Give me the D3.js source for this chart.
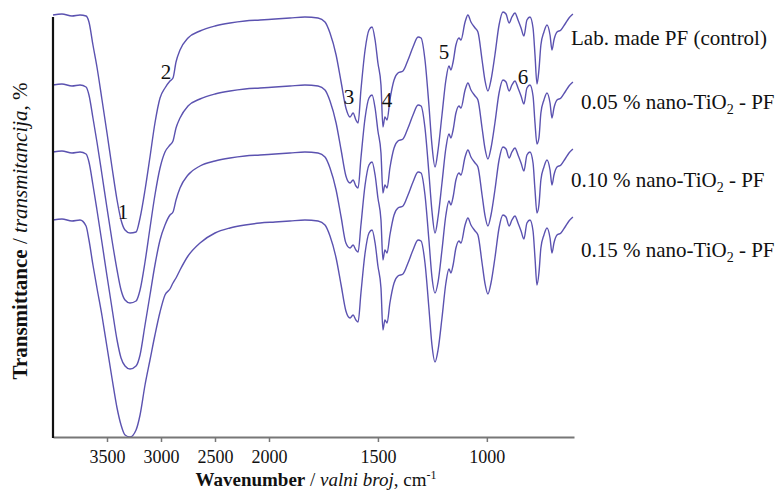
<!DOCTYPE html>
<html>
<head>
<meta charset="utf-8">
<script src="https://cdn.jsdelivr.net/npm/d3@7"></script>
<style>
body { margin: 0; background: #fff; }
svg text { font-family: "Liberation Serif", "Times New Roman", serif; fill: #111; }
</style>
</head>
<body>
<script>
// wavenumber grid (cm-1), shared by every spectrum
let wavenumbers = [4000,3917,3824,3750,3694,3667,3630,3593,3546,3500,3454,3407,3370,3333,3287,3231,3194,3148,3102,3056,3009,2963,2917,2889,2861,2824,2750,2639,2500,2361,2222,2083,
	1972,1904,1835,1775,1743,1720,1692,1669,1647,1628,1614,1601,1591,1578,1559,1541,1527,1513,1500,1486,
	1477,1468,1458,1445,1426,1408,1385,1362,1339,1316,1302,1284,1266,1252,1238,1224,1206,1188,1174,1165,
	1155,1142,1128,1119,1100,1087,1073,1054,1041,1022,1009,995,981,963,944,926,912,898,885,871,
	857,843,830,816,802,788,779,770,761,752,738,724,710,701,692,678,660,641,623,605];

// transmittance, arbitrary units (spectra stacked)
let controlPF = [422,423,421,422,421,415,392,370,337,304,270,237,217,207,204,205,219,247,280,314,339,349,356,359,375,387,399,406,411,414,416,417,
	418,419,420,419,415,404,382,355,329,320,324,317,314,347,387,407,410,397,374,352,
	310,320,317,337,357,364,366,377,390,400,399,377,332,292,270,287,322,357,371,367,
	375,392,399,397,415,422,415,409,405,377,357,346,357,382,412,425,423,414,420,424,
	417,409,401,417,420,409,382,353,367,392,405,412,402,387,397,405,407,413,419,423];

let tio2_005 = [352,353,351,352,350,342,319,295,262,229,197,167,147,137,134,136,147,175,209,242,269,285,292,296,309,319,331,338,343,346,348,349,
	350,351,352,351,347,336,314,287,261,254,257,251,249,279,319,339,342,329,306,284,
	244,252,249,269,289,296,298,309,322,332,331,309,264,226,204,220,254,289,303,299,
	307,324,331,329,347,354,347,341,337,309,289,278,289,314,344,357,355,346,352,356,
	349,341,333,349,352,341,314,293,299,324,337,344,334,319,329,337,339,345,351,355];

let tio2_010 = [285,286,284,285,283,275,252,227,194,161,129,97,79,71,68,71,82,112,142,172,197,212,222,225,237,249,262,271,276,279,281,282,
	283,284,285,284,280,269,247,220,194,189,192,187,185,212,252,272,275,262,239,217,
	177,187,184,202,222,229,231,242,255,265,264,242,197,160,144,155,187,222,236,232,
	240,257,264,262,280,287,280,274,270,242,222,211,222,247,277,290,288,279,285,289,
	282,274,266,282,285,274,247,224,232,257,270,277,267,252,262,270,272,278,284,288];

let tio2_015 = [217,218,216,217,211,197,172,149,121,90,59,29,12,2,0,7,22,52,77,102,125,142,148,154,159,167,181,194,204,209,212,214,
	215,216,217,216,212,201,179,152,126,119,122,117,115,144,184,204,207,194,171,149,
	107,117,114,134,154,161,163,174,187,197,196,174,129,92,75,87,119,154,168,164,
	172,189,196,194,212,219,212,206,202,174,154,143,154,179,209,222,220,211,217,221,
	214,206,198,214,217,206,179,152,164,189,202,209,199,184,194,202,204,210,216,220];

let xTicks = [3500, 3000, 2500, 2000, 1500, 1000];

// peak numbers: label, wavenumber, transmittance
let peakNames = ["1", "2", "3", "4", "5", "6"];
let peakWave = [3352, 2954, 1633, 1458, 1197, 834];
let peakValue = [218, 358, 333, 330, 378, 353];

window.onload = function(){

let width = 777,
	height = 497;

let svg = d3.select("body").append("svg").attr("width", width).attr("height", height)
	.style("background", "#fff")
	.style("font-family", "'Liberation Serif', serif");

// instrument plot: scale doubles below 2000 cm-1
let x = d3.scaleLinear().domain([4000, 2000, 600]).range([53, 269, 574]);
let y = d3.scaleLinear().domain([0, 420]).range([437, 17]);

let series = [
	{values: controlPF, label: "Lab. made PF (control)", lx: 571, ly: 45, sub: false},
	{values: tio2_005, label: ["0.05 % nano-TiO", "2", " - PF"], lx: 581, ly: 109, sub: true},
	{values: tio2_010, label: ["0.10 % nano-TiO", "2", " - PF"], lx: 571, ly: 187, sub: true},
	{values: tio2_015, label: ["0.15 % nano-TiO", "2", " - PF"], lx: 581, ly: 257, sub: true}
];

let line = d3.line()
	.x((d, i) => x(wavenumbers[i]))
	.y(d => y(d))
	.curve(d3.curveMonotoneX);

svg.selectAll(".spectrum").data(series).enter().append("path")
	.attr("class", "spectrum")
	.attr("d", d => line(d.values))
	.attr("fill", "none")
	.attr("stroke", "#5b52b0")
	.attr("stroke-width", 1.4);

// x axis
let xAxis = svg.append("g")
	.attr("transform", "translate(0," + y(0) + ")")
	.call(d3.axisBottom(x).tickValues(xTicks).tickSize(5).tickSizeOuter(0).tickFormat(d3.format("d")));
xAxis.attr("font-family", null);
xAxis.select(".domain").attr("stroke", "#777").attr("stroke-width", 2);
xAxis.selectAll(".tick line").attr("stroke", "#777").attr("stroke-width", 1.5);
xAxis.selectAll(".tick text")
	.attr("y", 26).attr("dy", null)
	.style("font-size", "18px")
	.attr("fill", "#111");

// y axis (no ticks)
svg.append("line")
	.attr("x1", x(4000)).attr("x2", x(4000))
	.attr("y1", y(420)).attr("y2", y(0) + 1)
	.attr("stroke", "#111").attr("stroke-width", 2.2);

// series labels
series.forEach(function(s){
	let t = svg.append("text").attr("x", s.lx).attr("y", s.ly).style("font-size", "21px");
	if (!s.sub) { t.text(s.label); return; }
	t.append("tspan").text(s.label[0]);
	t.append("tspan").attr("dy", 5).style("font-size", "14px").text(s.label[1]);
	t.append("tspan").attr("dy", -5).text(s.label[2]);
});

// peak numbers
svg.selectAll(".peak").data(peakNames).enter().append("text")
	.attr("class", "peak")
	.attr("x", (d, i) => x(peakWave[i]))
	.attr("y", (d, i) => y(peakValue[i]))
	.attr("text-anchor", "middle")
	.style("font-size", "21px")
	.text(d => d);

// axis titles
let xt = svg.append("text")
	.attr("x", 316).attr("y", 486)
	.attr("text-anchor", "middle")
	.style("font-size", "19px");
xt.append("tspan").style("font-weight", "bold").text("Wavenumber");
xt.append("tspan").text(" / ");
xt.append("tspan").style("font-style", "italic").text("valni broj");
xt.append("tspan").text(", cm");
xt.append("tspan").attr("dy", -7).style("font-size", "12px").text("-1");

let yt = svg.append("text")
	.attr("transform", "translate(27,231) rotate(-90)")
	.attr("text-anchor", "middle")
	.style("font-size", "21px");
yt.append("tspan").style("font-weight", "bold").text("Transmittance");
yt.append("tspan").text(" / ");
yt.append("tspan").style("font-style", "italic").text("transmitancija");
yt.append("tspan").text(", %");

};
</script>
</body>
</html>
